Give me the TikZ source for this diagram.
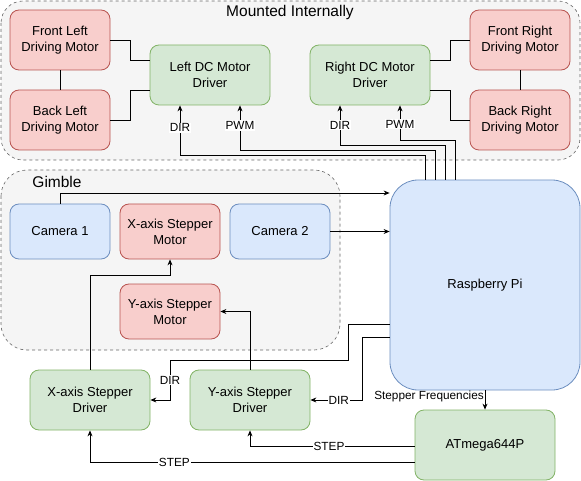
\documentclass[tikz,border=0pt]{standalone}
\usepackage{fontspec}
\setmainfont{Liberation Sans}
\usetikzlibrary{arrows.meta}
\definecolor{redF}{HTML}{F8CECC}
\definecolor{redS}{HTML}{B85450}
\definecolor{grnF}{HTML}{D5E8D4}
\definecolor{grnS}{HTML}{82B366}
\definecolor{bluF}{HTML}{DAE8FC}
\definecolor{bluS}{HTML}{6C8EBF}
\definecolor{grpF}{HTML}{F5F5F5}
\definecolor{grpS}{HTML}{666666}
\tikzset{
  box/.style={draw, line width=0.8pt, rounded corners=9pt, align=center, font=\fontsize{13}{16}\selectfont, inner sep=0pt},
  redbox/.style={box, fill=redF, draw=redS},
  grnbox/.style={box, fill=grnF, draw=grnS},
  blubox/.style={box, fill=bluF, draw=bluS},
  grp/.style={draw=grpS, fill=grpF, dashed, line width=0.6pt},
  wire/.style={line width=0.8pt},
  arr/.style={wire, -{Stealth[length=6pt,width=5pt]}},
  lbl/.style={fill=white, inner sep=1pt, font=\fontsize{11.8}{13}\selectfont},
}
\begin{document}
\begin{tikzpicture}[x=1pt,y=-1pt]
\useasboundingbox (0,0) rectangle (581,481);
% containers
\draw[grp, rounded corners=22pt] (1,1) rectangle (580,160);
\node[font=\fontsize{15.5}{17}\selectfont] (mtitle) at (290,12) {Mounted Internally};
\draw[grp, rounded corners=26pt] (1,170) rectangle (340,350);
\node[font=\fontsize{15.5}{17}\selectfont] (gtitle) at (57,182) {Gimble};
% nodes
\node[redbox, minimum width=100pt, minimum height=60pt] (fl) at (60,40) {Front Left\\Driving Motor};
\node[redbox, minimum width=100pt, minimum height=60pt] (bl) at (60,120) {Back Left\\Driving Motor};
\node[grnbox, minimum width=120pt, minimum height=60pt] (ld) at (210,75) {Left DC Motor\\Driver};
\node[grnbox, minimum width=120pt, minimum height=60pt] (rd) at (370,75) {Right DC Motor\\Driver};
\node[redbox, minimum width=100pt, minimum height=60pt] (fr) at (520,40) {Front Right\\Driving Motor};
\node[redbox, minimum width=100pt, minimum height=60pt] (br) at (520,120) {Back Right\\Driving Motor};
\node[blubox, minimum width=100pt, minimum height=55pt] (c1) at (60,231.5) {Camera 1};
\node[redbox, minimum width=100pt, minimum height=55pt] (xm) at (170,231.5) {X-axis Stepper\\Motor};
\node[blubox, minimum width=100pt, minimum height=55pt] (c2) at (280,231.5) {Camera 2};
\node[redbox, minimum width=100pt, minimum height=55pt] (ym) at (170,311.5) {Y-axis Stepper\\Motor};
\node[blubox, rounded corners=28pt, minimum width=190pt, minimum height=210pt] (pi) at (485,285) {Raspberry Pi};
\node[grnbox, minimum width=120pt, minimum height=60pt] (xd) at (90,400) {X-axis Stepper\\Driver};
\node[grnbox, minimum width=120pt, minimum height=60pt] (yd) at (250,400) {Y-axis Stepper\\Driver};
\node[grnbox, minimum width=140pt, minimum height=70pt] (at) at (485,445) {ATmega644P};
% motor links
\draw[wire] (fl.south) -- (bl.north);
\draw[wire] (fr.south) -- (br.north);
\draw[wire] (fl.east) -- (130,40) -- (130,60) -- (ld.west |- 0,60);
\draw[wire] (bl.east) -- (130,120) -- (130,90) -- (ld.west |- 0,90);
\draw[wire] (rd.east |- 0,60) -- (450,60) -- (450,40) -- (fr.west);
\draw[wire] (rd.east |- 0,90) -- (450,90) -- (450,120) -- (br.west);
% Pi to motor drivers
\draw[arr] (pi.north -| 425,0) -- (425,155) -- (180,155) -- (ld.south -| 180,0) node[lbl, pos=0.55] (l1) {DIR};
\draw[arr] (pi.north -| 435,0) -- (435,150) -- (240,150) -- (ld.south -| 240,0) node[lbl, pos=0.55] (l2) {PWM};
\draw[arr] (pi.north -| 445,0) -- (445,145) -- (340,145) -- (rd.south -| 340,0) node[lbl, pos=0.5] (l3) {DIR};
\draw[arr] (pi.north -| 455,0) -- (455,140) -- (400,140) -- (rd.south -| 400,0) node[lbl, pos=0.45] (l4) {PWM};
% cameras
\draw[arr] (c1.north) -- (60,193) -- (pi.west |- 0,193);
\draw[arr] (c2.east) -- (pi.west |- c2.east);
% stepper drivers to motors
\draw[arr] (xd.north) -- (90,275) -- (170,275) -- (xm.south);
\draw[arr] (yd.north) -- (ym.east -| 250,0) -- (ym.east);
% DIR from Pi
\draw[arr] (pi.west |- 0,324) -- (348,324) -- (348,360) -- (170,360) -- (170,400) node[lbl, pos=0.5] (l5) {DIR} -- (xd.east);
\draw[arr] (pi.west |- 0,337) -- (362,337) -- (362,400) -- (yd.east) node[lbl, pos=0.45] (l6) {DIR};
% Stepper frequencies
\draw[arr] (pi.south) -- (at.north);
\node[anchor=east, font=\fontsize{11.8}{13}\selectfont, inner sep=1pt] (sf) at (485,396) {Stepper Frequencies};
% STEP
\draw[arr] (at.west |- 0,446) -- (250,446) node[lbl, pos=0.52] (l7) {STEP} -- (yd.south);
\draw[arr] (at.west |- 0,462) -- (90,462) node[lbl, pos=0.74] (l8) {STEP} -- (xd.south);
\end{tikzpicture}
\end{document}
